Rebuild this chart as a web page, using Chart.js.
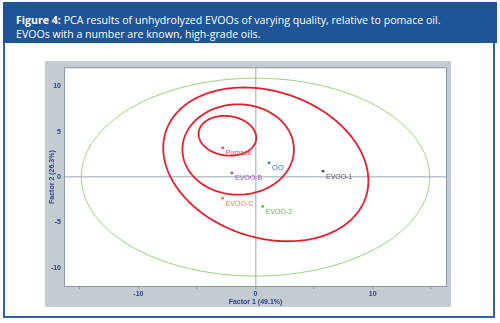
<!DOCTYPE html>
<html><head><meta charset="utf-8">
<script src="https://cdn.jsdelivr.net/npm/chart.js@4/dist/chart.umd.min.js"></script>
<style>
html,body{margin:0;padding:0;background:#fff;width:500px;height:323px;overflow:hidden}
#frame{position:absolute;left:3px;top:2px;width:488px;height:314px;border:2px solid #2f64a8;border-top:none;}
#head{position:absolute;left:3px;top:2px;width:494px;height:41px;background:#1d5598;color:#fff;font-family:"Open Sans",sans-serif;font-size:10.6px;line-height:14px;}
#head p{margin:0;padding:11px 0 0 13px;white-space:nowrap}
#wrap{position:absolute;left:45px;top:61px;width:406px;height:246px;}
</style></head>
<body>
<div id="frame"></div>
<div id="head"><p><b>Figure 4:</b> PCA results of unhydrolyzed EVOOs of varying quality, relative to pomace oil.<br>EVOOs with a number are known, high-grade oils.</p></div>
<div id="wrap"><canvas id="c" width="406" height="246"></canvas></div>
<script>
// Sample scores
const sampleNames = ['Pomace', 'OO', 'EVOO-B', 'EVOO-1', 'EVOO-C', 'EVOO-2'];
const factor1 = [-2.80, 1.16, -2.01, 5.76, -2.80, 0.62];
const factor2 = [3.23, 1.57, 0.46, 0.65, -2.33, -3.23];
const sampleColors = ['#e5414e', '#3a6fc2', '#9a53a6', '#6a4b4b', '#f07a38', '#5cb948'];

// Confidence ellipses (center, semi-axes, rotation in degrees)
const ellipseCX = [0, 0.88, -1.48, -2.40];
const ellipseCY = [0, 1.40, 3.04, 4.55];
const ellipseRX = [14.87, 9.50, 4.76, 2.50];
const ellipseRY = [10.90, 7.63, 4.98, 2.15];
const ellipseRot = [0, -40.6, 0, -20];
const ellipseColors = ['#8fd070', '#e21f2f', '#e21f2f', '#e21f2f'];
const ellipseWidths = [1, 1.8, 1.8, 1.8];

// Axes
const xTitle = 'Factor 1 (49.1%)';
const yTitle = 'Factor 2 (26.3%)';

function ellipsePts(i) {
  const pts = [];
  const r = ellipseRot[i] * Math.PI / 180;
  for (let k = 0; k <= 180; k++) {
    const t = k / 180 * 2 * Math.PI;
    const a = ellipseRX[i] * Math.cos(t), b = ellipseRY[i] * Math.sin(t);
    pts.push({x: ellipseCX[i] + a * Math.cos(r) - b * Math.sin(r),
              y: ellipseCY[i] + a * Math.sin(r) + b * Math.cos(r)});
  }
  return pts;
}

const datasets = [];
ellipseCX.forEach((_, i) => datasets.push({
  type: 'scatter', data: ellipsePts(i), showLine: true, pointRadius: 0,
  borderColor: ellipseColors[i], borderWidth: ellipseWidths[i], fill: false, tension: 0.1,
  borderJoinStyle: 'round', borderCapStyle: 'round'
}));
sampleNames.forEach((n, i) => datasets.push({
  type: 'scatter', label: n, data: [{x: factor1[i], y: factor2[i]}],
  pointRadius: 1.4, pointBorderWidth: 0, backgroundColor: sampleColors[i], borderColor: sampleColors[i]
}));

const GRAY = '#c4ccd2', BORDER = '#8e99a3', ZERO = '#b9c4cc', TICK = '#27458a';

const bgPlugin = {
  id: 'bg',
  beforeDraw(chart) {
    const {ctx, chartArea: a} = chart;
    ctx.save();
    ctx.fillStyle = GRAY; ctx.fillRect(0, 0, chart.width, chart.height);
    ctx.fillStyle = '#fff'; ctx.fillRect(a.left, a.top, a.right - a.left, a.bottom - a.top);
    ctx.restore();
  },
  afterDraw(chart) {
    const {ctx, chartArea: a} = chart;
    ctx.save();
    ctx.strokeStyle = BORDER; ctx.lineWidth = 1;
    ctx.strokeRect(a.left + 0.5, a.top - 0.5, a.right - a.left - 1, a.bottom - a.top + 1);
    ctx.restore();
  }
};
const labelPlugin = {
  id: 'labels',
  afterDatasetsDraw(chart) {
    const {ctx, scales: {x, y}} = chart;
    ctx.save();
    ctx.textBaseline = 'middle'; ctx.textAlign = 'left';
    sampleNames.forEach((n, i) => {
      const px = x.getPixelForValue(factor1[i]), py = y.getPixelForValue(factor2[i]);
      ctx.fillStyle = sampleColors[i];
      ctx.font = n === 'OO' ? '7.5px "Liberation Sans"' : '7px "Liberation Sans"';
      ctx.fillText(n, px + 3, py + 5.5);
    });
    ctx.restore();
  }
};

new Chart(document.getElementById('c'), {
  type: 'scatter',
  data: {datasets},
  plugins: [bgPlugin, labelPlugin],
  options: {
    responsive: false, animation: false,
    layout: {padding: {top: 2, right: 1, left: 0, bottom: 0}},
    plugins: {legend: {display: false}, tooltip: {enabled: false}},
    scales: {
      x: {
        type: 'linear', min: -16.35, max: 16.35,
        afterFit: s => { s.height = 21; },
        ticks: {stepSize: 5, includeBounds: false, padding: 1, maxRotation: 0,
          callback: v => (v % 10 === 0 ? String(v) : ''),
          color: TICK, font: {family: 'Liberation Sans', size: 7, weight: 'bold'}},
        grid: {color: c => (c.tick && c.tick.value === 0 ? ZERO : 'rgba(0,0,0,0)'), lineWidth: 1.5,
          tickColor: BORDER, tickLength: 3, tickWidth: 1, drawTicks: true},
        border: {display: true, color: BORDER, width: 1},
        title: {display: true, text: xTitle, color: TICK, padding: {top: 0, bottom: 1},
          font: {family: 'Liberation Sans', size: 7, weight: 'bold'}}
      },
      y: {
        type: 'linear', min: -12, max: 12,
        afterFit: s => { s.width = 19; },
        ticks: {stepSize: 5, includeBounds: false, padding: 3,
          color: TICK, font: {family: 'Liberation Sans', size: 7, weight: 'bold'}},
        grid: {color: c => (c.tick && c.tick.value === 0 ? ZERO : 'rgba(0,0,0,0)'), lineWidth: 1.5,
          drawTicks: false},
        border: {display: true, color: BORDER, width: 1},
        title: {display: true, text: yTitle, color: TICK, padding: {top: 3, bottom: 0},
          font: {family: 'Liberation Sans', size: 7, weight: 'bold'}}
      }
    }
  }
});
</script>
</body></html>
